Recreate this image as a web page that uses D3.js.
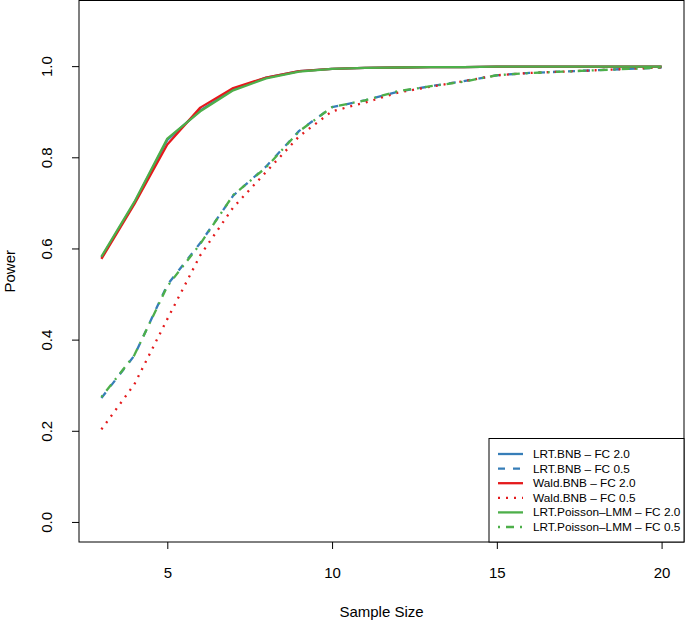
<!DOCTYPE html>
<html><head><meta charset="utf-8">
<script src="https://cdn.jsdelivr.net/npm/d3@7"></script>
<style>body{margin:0;background:#fff}svg{display:block}text{font-family:"Liberation Sans",Arial,sans-serif}</style>
</head><body><svg id="c" width="685" height="625"></svg>
<script>
const sampleSize = [3,4,5,6,7,8,9,10,11,12,13,14,15,16,17,18,19,20];
const lrtBnbFC2   = [0.580,0.700,0.838,0.903,0.949,0.975,0.989,0.994,0.996,0.997,0.998,0.998,0.999,0.999,0.999,0.999,0.999,0.999];
const lrtBnbFC05  = [0.272,0.365,0.520,0.612,0.716,0.780,0.858,0.910,0.925,0.944,0.956,0.967,0.980,0.985,0.988,0.991,0.994,0.997];
const waldBnbFC2  = [0.577,0.697,0.828,0.909,0.952,0.975,0.989,0.994,0.996,0.997,0.998,0.998,0.999,0.999,0.999,0.999,0.999,0.999];
const waldBnbFC05 = [0.203,0.302,0.445,0.585,0.690,0.768,0.846,0.901,0.920,0.942,0.955,0.967,0.980,0.985,0.988,0.991,0.994,0.997];
const poisFC2     = [0.582,0.702,0.841,0.901,0.947,0.973,0.988,0.994,0.996,0.997,0.998,0.998,0.999,0.999,0.999,0.999,0.999,0.999];
const poisFC05    = [0.274,0.366,0.517,0.610,0.717,0.778,0.857,0.910,0.925,0.945,0.956,0.966,0.980,0.985,0.988,0.991,0.994,0.997];
const seriesNames = ["LRT.BNB \u2013 FC 2.0","LRT.BNB \u2013 FC 0.5","Wald.BNB \u2013 FC 2.0","Wald.BNB \u2013 FC 0.5","LRT.Poisson\u2013LMM \u2013 FC 2.0","LRT.Poisson\u2013LMM \u2013 FC 0.5"];
const xTicks = [5,10,15,20];
const yTicks = [0,0.2,0.4,0.6,0.8,1.0];

const blue="#377EB8", red="#E41A1C", green="#4DAF4A";
const series = [
  {name:seriesNames[0], v:lrtBnbFC2,  color:blue,  dash:null},
  {name:seriesNames[1], v:lrtBnbFC05, color:blue,  dash:"7,8"},
  {name:seriesNames[2], v:waldBnbFC2, color:red,   dash:null},
  {name:seriesNames[3], v:waldBnbFC05,color:red,   dash:"2,6"},
  {name:seriesNames[4], v:poisFC2,    color:green, dash:null},
  {name:seriesNames[5], v:poisFC05,   color:green, dash:"2,6,8,6"}
];

const svg = d3.select("#c");
const L=79, R=684, T=0.5, B=542;
const x = d3.scaleLinear().domain([2.32,20.68]).range([L,R]);
const y = d3.scaleLinear().domain([-0.044,1.144]).range([B,T]);

const line = d3.line().x((d,i)=>x(sampleSize[i])).y(d=>y(d));
series.forEach(s=>{
  svg.append("path").attr("d",line(s.v)).attr("fill","none")
    .attr("stroke",s.color).attr("stroke-width",2.3)
    .attr("stroke-dasharray",s.dash).attr("stroke-linejoin","round");
});

// box
svg.append("rect").attr("x",L).attr("y",T).attr("width",R-L).attr("height",B-T)
  .attr("fill","none").attr("stroke","#000").attr("stroke-width",1);

// axes
const xa = svg.append("g").attr("transform",`translate(0,${B})`)
  .call(d3.axisBottom(x).tickValues(xTicks).tickSize(7).tickPadding(18).tickFormat(d3.format("d")));
xa.select(".domain").remove();
xa.selectAll("text").attr("font-size",15).attr("fill","#000").style("font-family","Liberation Sans, Arial, sans-serif");
const ya = svg.append("g").attr("transform",`translate(${L},0)`)
  .call(d3.axisLeft(y).tickValues(yTicks).tickSize(7).tickFormat(d3.format(".1f")));
ya.select(".domain").remove();
ya.selectAll("text").attr("font-size",15).attr("fill","#000")
  .attr("text-anchor","middle").attr("x",0).attr("dy",null)
  .attr("transform","translate(-33,0) rotate(-90)").attr("dominant-baseline","central")
  .style("font-family","Liberation Sans, Arial, sans-serif");
svg.selectAll(".tick line").attr("stroke","#000");

svg.append("text").attr("x",(L+R)/2).attr("y",617).attr("text-anchor","middle")
  .attr("font-size",15).text("Sample Size");
svg.append("text").attr("transform",`translate(15,${(T+B)/2}) rotate(-90)`)
  .attr("text-anchor","middle").attr("font-size",15).text("Power");

// legend
const lg = svg.append("g");
lg.append("rect").attr("x",489).attr("y",438.5).attr("width",R-489).attr("height",B-438.5)
  .attr("fill","#fff").attr("stroke","#000").attr("stroke-width",1);
series.forEach((s,i)=>{
  const yy = 454 + i*14.6;
  lg.append("line").attr("x1",498).attr("x2",523).attr("y1",yy).attr("y2",yy)
    .attr("stroke",s.color).attr("stroke-width",2.3).attr("stroke-dasharray",s.dash);
  lg.append("text").attr("x",533).attr("y",yy).attr("dominant-baseline","central")
    .attr("font-size",11.8).text(s.name);
});
</script></body></html>
